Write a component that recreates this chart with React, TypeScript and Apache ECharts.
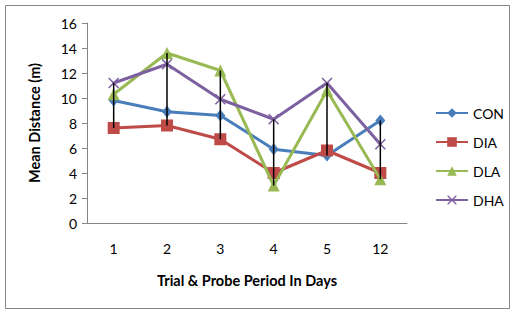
import React, { useEffect, useRef } from "react";
import * as echarts from "echarts";

const categories = ["1", "2", "3", "4", "5", "12"];
const seriesNames = ["CON", "DIA", "DLA", "DHA"];
const conValues = [9.8, 8.9, 8.6, 5.9, 5.4, 8.2];
const diaValues = [7.6, 7.8, 6.7, 4.0, 5.8, 4.0];
const dlaValues = [10.3, 13.6, 12.2, 3.0, 10.6, 3.5];
const dhaValues = [11.2, 12.7, 9.9, 8.3, 11.2, 6.3];
const yTicks = { min: 0, max: 16, interval: 2 };

const colors = ["#4A7EBB", "#BE4B48", "#98B954", "#7D60A0"];
const symbols = [
  "diamond",
  "rect",
  "triangle",
  "path://M0,1 L1,0 L5,4 L9,0 L10,1 L6,5 L10,9 L9,10 L5,6 L1,10 L0,9 L4,5 Z",
];
const symbolSizes: any[] = [[10, 12], 12, 12, 11];

export default function App() {
  const ref = useRef<HTMLDivElement>(null);
  useEffect(() => {
    if (!ref.current) return;
    const chart = echarts.init(ref.current, null, { renderer: "svg" });
    const all = [conValues, diaValues, dlaValues, dhaValues];
    const hiLo = categories.map((_, i) => {
      const vals = all.map((a) => a[i]);
      return [i, Math.max(...vals), Math.min(...vals)];
    });
    const font = "Lato, 'Open Sans', sans-serif";
    chart.setOption({
      animation: false,
      textStyle: { fontFamily: font },
      graphic: [
        {
          type: "rect",
          shape: { x: 5.5, y: 5.5, width: 504, height: 303 },
          style: { fill: "none", stroke: "#868686", lineWidth: 1 },
          z: -1,
        },
      ],
      grid: { left: 87, top: 23, right: 112, bottom: 90, containLabel: false },
      legend: {
        orient: "vertical",
        left: 430,
        top: 101,
        itemWidth: 32,
        itemHeight: 12,
        itemGap: 15,
        textStyle: { fontSize: 14, lineHeight: 14, color: "#000", fontFamily: font },
        data: seriesNames,
      },
      xAxis: {
        type: "category",
        data: categories,
        boundaryGap: true,
        axisLine: { lineStyle: { color: "#868686", width: 1 } },
        axisTick: { show: false },
        axisLabel: { color: "#000", fontSize: 14, margin: 18, fontFamily: font },
        name: "Trial & Probe Period In Days",
        nameLocation: "middle",
        nameGap: 50,
        nameTextStyle: { fontWeight: "bold", fontSize: 14.5, color: "#000", fontFamily: font },
      },
      yAxis: {
        type: "value",
        min: yTicks.min,
        max: yTicks.max,
        interval: yTicks.interval,
        splitLine: { show: false },
        axisLine: { show: true, lineStyle: { color: "#868686", width: 1 } },
        axisTick: { show: true, length: 5, lineStyle: { color: "#868686" } },
        axisLabel: { color: "#000", fontSize: 14, margin: 10, fontFamily: font },
        name: "Mean Distance (m)",
        nameLocation: "middle",
        nameGap: 45,
        nameTextStyle: { fontWeight: "bold", fontSize: 14.5, color: "#000", fontFamily: font },
      },
      series: [
        ...all.map((vals, k) => ({
          name: seriesNames[k],
          type: "line",
          data: vals,
          symbol: symbols[k],
          symbolSize: symbolSizes[k],
          showAllSymbol: true,
          lineStyle: { color: colors[k], width: 3 },
          itemStyle: { color: colors[k] },
          z: 2 + k,
        })),
        {
          type: "custom",
          name: "hilo",
          data: hiLo,
          z: 10,
          encode: { x: 0, y: [1, 2] },
          renderItem: (params: any, api: any) => {
            const p1 = api.coord([api.value(0), api.value(1)]);
            const p2 = api.coord([api.value(0), api.value(2)]);
            return {
              type: "line",
              shape: { x1: p1[0], y1: p1[1], x2: p2[0], y2: p2[1] },
              style: { stroke: "#000", lineWidth: 1.5 },
            };
          },
        },
      ],
    });
    return () => chart.dispose();
  }, []);
  return (
    <div
      ref={ref}
      style={{ position: "fixed", left: 0, top: 0, width: 519, height: 313, background: "#fff" }}
    />
  );
}
